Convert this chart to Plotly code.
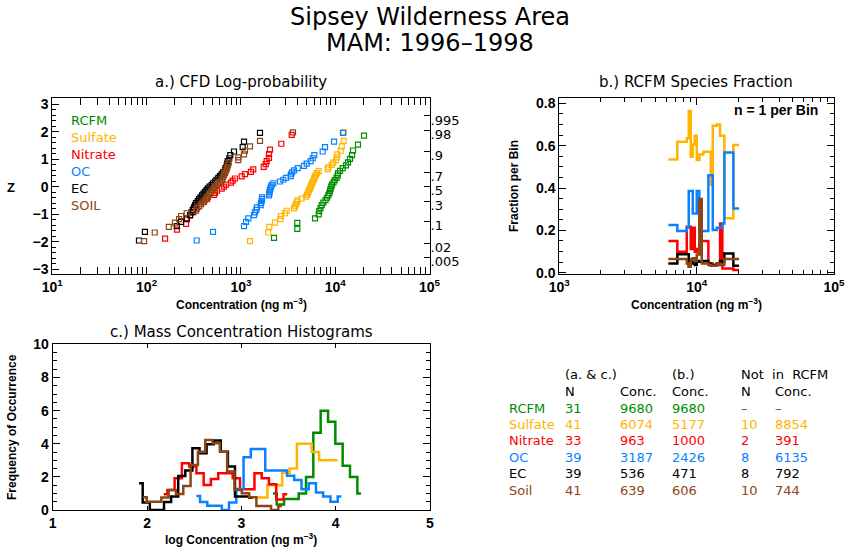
import statistics
import plotly.graph_objects as go

W, H = 860, 550

GREEN = "#008C00"
ORANGE = "#FFB400"
RED = "#FF0000"
BLUE = "#0A82FF"
BLACK = "#000000"
BROWN = "#8C4614"

# a.) CFD log-probability: sorted concentrations (ng m-3) -----------------
rcfm_conc = [2244, 3965, 3965, 6110, 6685, 6780, 6980, 7190, 7480, 7890, 8190,
             8450, 8660, 8810, 8910, 9090, 9250, 9600, 9880, 10330, 10630,
             10710, 11250, 12010, 13020, 13670, 14360, 15080, 15450, 17450, 20200]
sulfate_conc = [1249, 1953, 2000, 2299, 2617, 2662, 2936, 3060, 3657, 3748, 3840,
                3934, 3983, 4414, 4901, 5023, 5121, 5211, 5300, 5405, 5498, 5579,
                5675, 5772, 5889, 6003, 6109, 6260, 6412, 6683, 8325, 8450, 9182,
                9548, 10200, 10370, 10530, 11440, 11720, 12310, 12310]
nitrate_conc = [157, 210, 262, 268, 289, 313, 334, 360, 375, 406, 437, 448, 519,
                531, 558, 626, 662, 695, 785, 818, 866, 1020, 1105, 1280, 1353,
                1745, 1832, 1877, 1986, 1986, 2035, 2682, 3456]
oc_conc = [340, 506, 1079, 1133, 1198, 1377, 1411, 1457, 1481, 1622, 1634, 1662,
           1674, 1674, 1986, 2000, 2011, 2035, 2060, 2085, 2121, 2206, 2598, 2815,
           3008, 3374, 3399, 3483, 3657, 4003, 4668, 4987, 5498, 5772, 6003, 7370,
           7796, 9712, 12090]
ec_conc = [83, 96, 209, 232, 266, 289, 299, 308, 318, 326, 334, 348, 360, 373, 387,
           401, 416, 432, 445, 465, 490, 506, 531, 551, 576, 600, 623, 646, 678,
           687, 707, 718, 725, 753, 772, 845, 1045, 1079, 1594]
soil_conc = [94, 122, 172, 200, 221, 232, 266, 334, 342, 360, 378, 399, 411, 427,
             440, 456, 470, 486, 500, 516, 531, 551, 572, 600, 626, 638, 651, 662,
             678, 690, 707, 718, 730, 743, 939, 939, 1079, 1105, 1249, 1594, 3568]

prob_ticks = [0.995, 0.98, 0.9, 0.7, 0.5, 0.3, 0.1, 0.02, 0.005]
prob_text = [".995", ".98", ".9", ".7", ".5", ".3", ".1", ".02", ".005"]

# b.) RCFM species fraction, n = 1 per bin --------------------------------
b_bin_edges = [6221, 7235, 8473, 8759, 9057, 9367, 9685, 10016, 10464, 10892,
               11190, 12168, 12668, 13100, 14010, 14806, 15390, 15916, 18506, 20360]
b_sulfate = [0.535, 0.619, 0.635, 0.764, 0.548, 0.606, 0.647, 0.532, 0.559, 0.559,
             0.572, 0.572, 0.414, 0.694, 0.70, 0.647, 0.647, 0.257, 0.603]
b_nitrate = [0.150, 0.099, 0.217, 0.217, 0.112, 0.213, 0.099, 0.112, 0.150, 0.150,
             0.150, 0.044, 0.044, 0.036, 0.036, 0.233, 0.020, 0.020, 0.013]
b_oc = [0.225, 0.197, 0.213, 0.386, 0.386, 0.280, 0.280, 0.386, 0.197, 0.197,
        0.197, 0.461, 0.461, 0.202, 0.213, 0.213, 0.233, 0.568, 0.304]
b_ec = [0.044, 0.087, 0.087, 0.030, 0.052, 0.044, 0.036, 0.055, 0.052, 0.052,
        0.055, 0.044, 0.036, 0.036, 0.044, 0.055, 0.052, 0.091, 0.033]
b_soil = [0.065, 0.065, 0.044, 0.030, 0.065, 0.068, 0.055, 0.086, 0.348, 0.044,
          0.044, 0.036, 0.033, 0.033, 0.044, 0.036, 0.036, 0.065, 0.065]

# c.) mass concentration histograms: bin centre (log ng m-3) and frequency --
c_rcfm_x = [3.336, 3.414, 3.491, 3.569, 3.647, 3.724, 3.802, 3.880, 3.958, 4.035,
            4.113, 4.191, 4.269]
c_rcfm_y = [1.0, 0.33, 0.67, 0.67, 1.0, 2.0, 4.67, 6.0, 5.33, 4.0, 2.67, 2.0, 1.0]
c_sulfate_x = [3.159, 3.237, 3.315, 3.393, 3.472, 3.550, 3.628, 3.707, 3.785,
               3.863, 3.941, 4.020]
c_sulfate_y = [0.75, 0.75, 1.5, 1.5, 2.25, 2.5, 4.0, 4.0, 3.5, 3.0, 3.0, 3.0]
c_nitrate_x = [2.177, 2.254, 2.331, 2.408, 2.485, 2.562, 2.639, 2.716, 2.793,
               2.870, 2.947, 3.024, 3.101, 3.177, 3.254, 3.331, 3.408, 3.486]
c_nitrate_y = [0.95, 1.21, 1.91, 2.82, 2.62, 2.22, 1.51, 1.87, 2.22, 2.22, 1.91,
               1.25, 1.25, 2.22, 1.91, 1.55, 0.64, 0.95]
c_oc_x = [2.524, 2.601, 2.677, 2.754, 2.831, 2.908, 2.985, 3.062, 3.138, 3.215,
          3.292, 3.369, 3.446, 3.522, 3.599, 3.676, 3.753, 3.829, 3.906, 3.983, 4.060]
c_oc_y = [0.85, 0.48, 0.26, 0.26, 0.0, 0.46, 1.27, 3.18, 3.69, 3.69, 2.38, 2.38,
          2.38, 2.07, 1.81, 1.25, 1.61, 1.05, 0.81, 0.50, 0.81]
c_ec_x = [1.916, 1.992, 2.067, 2.142, 2.218, 2.293, 2.368, 2.443, 2.519, 2.594,
          2.669, 2.744, 2.820, 2.895, 2.970, 3.046, 3.121]
c_ec_y = [1.61, 0.46, 0.0, 0.0, 0.48, 0.81, 2.05, 2.38, 3.73, 3.42, 3.97, 4.19,
          3.52, 2.62, 0.81, 0.81, 0.74]
c_soil_x = [1.958, 2.036, 2.113, 2.191, 2.268, 2.346, 2.423, 2.501, 2.578, 2.656,
            2.733, 2.811, 2.888, 2.966, 3.043, 3.121, 3.198, 3.276, 3.353, 3.431]
c_soil_y = [0.77, 0.50, 0.50, 0.75, 1.21, 0.97, 1.45, 2.72, 3.52, 4.23, 4.03, 3.52,
            2.32, 1.21, 1.01, 0.77, 0.24, 0.24, 0.0, 0.24]

# summary table -------------------------------------------------------------
table_names = ["RCFM", "Sulfate", "Nitrate", "OC", "EC", "Soil"]
table_n_ac = ["31", "41", "33", "39", "39", "41"]
table_conc_ac = ["9680", "6074", "963", "3187", "536", "639"]
table_conc_b = ["9680", "5177", "1000", "2426", "471", "606"]
table_n_not = ["\u2013", "10", "2", "8", "8", "10"]
table_conc_not = ["\u2013", "8854", "391", "6135", "792", "744"]

legend_names = ["RCFM", "Sulfate", "Nitrate", "OC", "EC", "SOIL"]
colors = [GREEN, ORANGE, RED, BLUE, BLACK, BROWN]

nd = statistics.NormalDist()


def probit_z(conc):
    # plotting position i/(n+1) -> standard normal quantile
    n = len(conc)
    return [nd.inv_cdf(i / (n + 1)) for i in range(1, n + 1)]


def dom_x(x0, x1):
    return [x0 / W, x1 / W]


def dom_y(y0, y1):
    return [1 - y1 / H, 1 - y0 / H]


fig = go.Figure()

# a.) scatter ---------------------------------------------------------------
a_series = [rcfm_conc, sulfate_conc, nitrate_conc, oc_conc, ec_conc, soil_conc]
for k, (conc, col) in enumerate(zip(a_series, colors)):
    fig.add_trace(go.Scatter(
        x=conc, y=probit_z(conc), mode="markers",
        marker=dict(symbol="square-open", size=5, color=col, line=dict(width=1.2, color=col)),
        xaxis="x", yaxis="y4" if k == 5 else "y"))

# b.) step lines --------------------------------------------------------------
for vals, col in zip([b_sulfate, b_nitrate, b_oc, b_ec, b_soil],
                     [ORANGE, RED, BLUE, BLACK, BROWN]):
    fig.add_trace(go.Scatter(
        x=b_bin_edges, y=vals + [vals[-1]], mode="lines", line_shape="hv",
        line=dict(color=col, width=2.5), xaxis="x2", yaxis="y2"))

# c.) histograms --------------------------------------------------------------
c_series = [(c_rcfm_x, c_rcfm_y), (c_sulfate_x, c_sulfate_y), (c_nitrate_x, c_nitrate_y),
            (c_oc_x, c_oc_y), (c_ec_x, c_ec_y), (c_soil_x, c_soil_y)]
for (xs, ys), col in zip(c_series, colors):
    fig.add_trace(go.Scatter(
        x=xs, y=ys, mode="lines", line_shape="hvh",
        line=dict(color=col, width=2.5), xaxis="x3", yaxis="y3"))

TICK_FONT = dict(family="Liberation Sans", size=14, color="black", weight="bold")
MINOR = dict(ticks="inside", ticklen=4, tickcolor="black", showgrid=False)


def box_axis(**kw):
    base = dict(showline=True, linecolor="black", linewidth=1, mirror="allticks",
                ticks="inside", ticklen=7, tickcolor="black", showgrid=False,
                zeroline=False, tickfont=TICK_FONT, automargin=False)
    base.update(kw)
    return base


def log_axis(lo, hi, **kw):
    vals = [10 ** p for p in range(lo, hi + 1)]
    text = ["10<sup>%d</sup>" % p for p in range(lo, hi + 1)]
    return box_axis(type="log", range=[lo, hi], tickmode="array", tickvals=vals,
                    ticktext=text, minor=dict(MINOR, dtick="D1"), **kw)


fig.update_layout(
    width=W, height=H, margin=dict(l=0, r=0, t=0, b=0, autoexpand=False),
    paper_bgcolor="white", plot_bgcolor="white", showlegend=False,
    font=dict(family="DejaVu Sans", color="black"),
    xaxis=log_axis(1, 5, domain=dom_x(52.3, 429.5), anchor="y"),
    yaxis=box_axis(domain=dom_y(98.3, 274), anchor="x", range=[-3.18, 3.22],
                   dtick=1, mirror=True, minor=dict(MINOR, dtick=0.2)),
    yaxis4=dict(overlaying="y", side="right", anchor="x", range=[-3.18, 3.22],
                tickmode="array", tickvals=[nd.inv_cdf(p) for p in prob_ticks],
                ticktext=prob_text, ticks="inside", ticklen=6, tickcolor="black",
                showline=False, showgrid=False, zeroline=False, automargin=False,
                ticklabelshift=4,
                tickfont=dict(family="DejaVu Sans", size=13, color="black")),
    xaxis2=log_axis(3, 5, domain=dom_x(559.3, 834), anchor="y2"),
    yaxis2=box_axis(domain=dom_y(98.3, 274), anchor="x2", range=[-0.006, 0.824],
                    tick0=0, dtick=0.2, tickformat=".1f", minor=dict(MINOR, dtick=0.05)),
    xaxis3=box_axis(domain=dom_x(52.7, 430), anchor="y3", range=[1, 5], dtick=1,
                    ticklen=4),
    yaxis3=box_axis(domain=dom_y(344.4, 510), anchor="x3", range=[0, 10], dtick=2,
                    minor=dict(MINOR, dtick=0.5)),
)


def note(text, x, y, size=13, color="black", family="DejaVu Sans", bold=False,
         xanchor="center", angle=0):
    fig.add_annotation(text=text, x=x / W, y=1 - y / H, xref="paper", yref="paper",
                       xanchor=xanchor, yanchor="middle", showarrow=False,
                       textangle=angle,
                       font=dict(family=family, size=size, color=color,
                                 weight="bold" if bold else "normal"))


# titles
note("Sipsey Wilderness Area", 430, 17, size=24)
note("MAM: 1996\u20131998", 430, 43, size=24)
note("a.) CFD Log-probability", 241, 82, size=15)
note("b.) RCFM Species Fraction", 696, 82, size=15)
note("c.) Mass Concentration Histograms", 241, 332, size=15)

# axis titles
note("Concentration (ng m<sup>\u22123</sup>)", 241, 304, size=12, family="Liberation Sans", bold=True)
note("Concentration (ng m<sup>\u22123</sup>)", 696, 304, size=12, family="Liberation Sans", bold=True)
note("log Concentration (ng m<sup>\u22123</sup>)", 241, 539, size=12, family="Liberation Sans", bold=True)
note("Z", 11, 187, size=13, family="Liberation Sans", bold=True)
note("Fraction per Bin", 514, 186, size=12, family="Liberation Sans", bold=True, angle=-90)
note("Frequency of Occurrence", 12, 427, size=12, family="Liberation Sans", bold=True, angle=-90)
note("n = 1 per Bin", 820, 110, size=14, family="Liberation Sans", bold=True, xanchor="right")

# legend of panel a
for k, (name, col) in enumerate(zip(legend_names, colors)):
    note(name, 69, 121 + k * 16.8, size=13, color=col, xanchor="left")

# table
note("(a. & c.)", 563, 374, xanchor="left")
note("(b.)", 670, 374, xanchor="left")
note("Not  in  RCFM", 739, 374, xanchor="left")
for txt, xx in [("N", 563), ("Conc.", 618), ("Conc.", 670), ("N", 739), ("Conc.", 773)]:
    note(txt, xx, 391, xanchor="left")
for k, col in enumerate(colors):
    yy = 408 + k * 16.4
    row = [table_names[k], table_n_ac[k], table_conc_ac[k], table_conc_b[k],
           table_n_not[k], table_conc_not[k]]
    for txt, xx in zip(row, [507, 563, 618, 670, 739, 773]):
        note(txt, xx, yy, color=col, xanchor="left")

# the page has a default body margin; drop it so the figure sits at 0,0
fig.write_html("out.html", config={"displayModeBar": False},
               post_script="document.body.style.margin = '0px';")
